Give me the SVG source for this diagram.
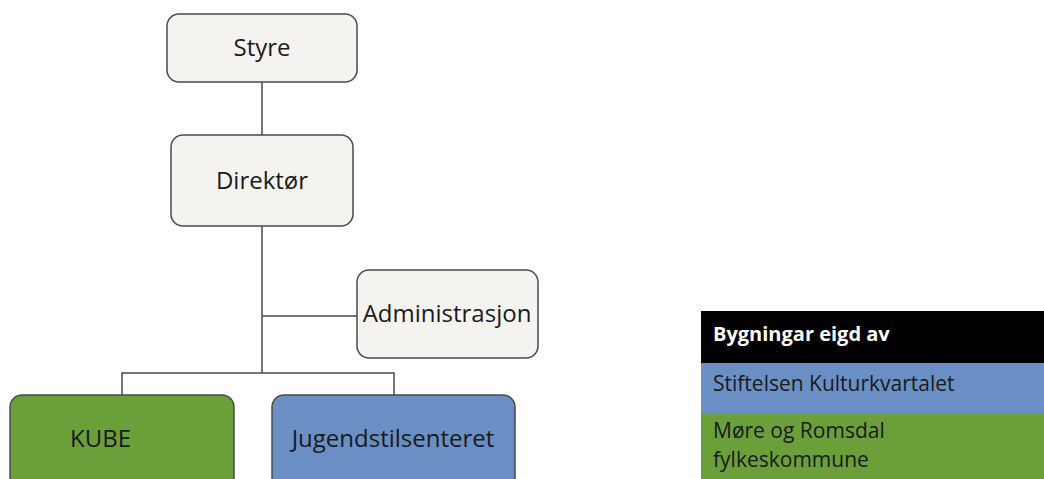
<svg xmlns="http://www.w3.org/2000/svg" width="1044" height="479" viewBox="0 0 1044 479">
<style>
.n{fill:#f5f3f0;stroke:#4a4a4a;stroke-width:1.5}
.g{fill:#6b9f3a;stroke:#4a4a4a;stroke-width:1.5}
.b{fill:#6a8fc4;stroke:#4a4a4a;stroke-width:1.5}
.t{font-family:"Open Sans","Liberation Sans",sans-serif;font-size:24px;fill:#1a1a1a}
.c{text-anchor:middle}
.l{font-family:"Open Sans","Liberation Sans",sans-serif;font-size:21px;fill:#1a1a1a}
.conn{fill:none;stroke:#4a4a4a;stroke-width:1.5}
</style>
<rect width="1044" height="479" fill="#fff"/>
<g id="connectors">
<path class="conn" d="M262 82V135M262 226V373M262 316H357M122 395V373H394V395"/>
</g>
<g id="styre"><rect class="n" x="167" y="14" width="190" height="68" rx="12"/><text class="t c" x="262" y="56">Styre</text></g>
<g id="direktor"><rect class="n" x="171" y="135" width="182" height="91" rx="12"/><text class="t c" x="262" y="189">Direktør</text></g>
<g id="administrasjon"><rect class="n" x="357" y="270" width="181" height="88" rx="12"/><text class="t c" x="447" y="322">Administrasjon</text></g>
<g id="kube"><rect class="g" x="10" y="395" width="224" height="100" rx="12"/><text class="t" x="70" y="447">KUBE</text></g>
<g id="jugendstilsenteret"><rect class="b" x="272" y="395" width="243" height="100" rx="12"/><text class="t c" x="393" y="447">Jugendstilsenteret</text></g>
<g id="legend">
<rect x="701" y="311" width="343" height="52" fill="#000"/>
<rect x="701" y="363" width="343" height="50" fill="#6a8fc4"/>
<rect x="701" y="413" width="343" height="66" fill="#6b9f3a"/>
<text class="l" x="713" y="341" style="fill:#fff;font-weight:bold;font-size:20px">Bygningar eigd av</text>
<text class="l" x="713" y="391">Stiftelsen Kulturkvartalet</text>
<text class="l" x="713" y="438">Møre og Romsdal</text>
<text class="l" x="713" y="467">fylkeskommune</text>
</g>
</svg>
